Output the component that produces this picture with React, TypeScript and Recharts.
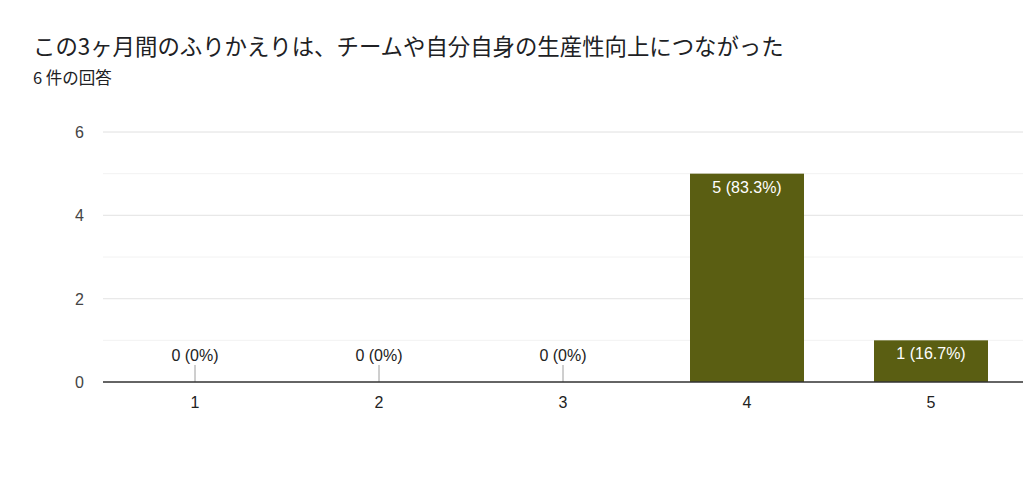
import { Bar, BarChart, CartesianGrid, XAxis, YAxis } from "recharts";

const categories = ["1", "2", "3", "4", "5"];
const counts = [0, 0, 0, 5, 1];
const yTicks = [0, 1, 2, 3, 4, 5, 6];
const majorTicks = [2, 4, 6];

const total = counts.reduce((a, b) => a + b, 0);
const data = categories.map((name, i) => ({ name, count: counts[i] }));

const TITLE_FONT = "'Noto Sans CJK JP', sans-serif";
const FONT = "'Liberation Sans', Arial, sans-serif";
const BAR_COLOR = "#5a5e12";

function pct(v: number) {
  const p = (v / total) * 100;
  return Number.isInteger(p) ? `${p}%` : `${p.toFixed(1)}%`;
}

// draws the bar plus its "n (p%)" label; zero bars get a small stem
function BarShape(props: any) {
  const { x, y, width, height, payload } = props;
  const value = payload.count;
  const cx = x + width / 2;
  const text = `${value} (${pct(value)})`;
  if (!value) {
    const base = y + (height || 0);
    return (
      <g>
        <line x1={cx} x2={cx} y1={base - 17} y2={base} stroke="#9e9e9e" strokeWidth={1} />
        <text x={cx} y={base - 21} textAnchor="middle" fontSize={16} fill="#222" fontFamily={FONT}>
          {text}
        </text>
      </g>
    );
  }
  return (
    <g>
      <rect x={x} y={y} width={width} height={height} fill={BAR_COLOR} />
      <text x={cx} y={y + 19} textAnchor="middle" fontSize={16} fill="#fff" fontFamily={FONT}>
        {text}
      </text>
    </g>
  );
}

function YTick(props: any) {
  const { x, y, payload } = props;
  if (payload.value % 2 !== 0) return <g />;
  return (
    <text x={x - 11} y={y + 6} textAnchor="end" fontSize={16} fill="#444" fontFamily={FONT}>
      {payload.value}
    </text>
  );
}

export default function App() {
  return (
    <div style={{ position: "absolute", left: 0, top: 0, width: 1024, height: 487, background: "#fff" }}>
      <div style={{ position: "absolute", left: 33, top: 29, fontSize: 22.4, color: "#202124", fontFamily: TITLE_FONT, whiteSpace: "nowrap" }}>
        この3ヶ月間のふりかえりは、チームや自分自身の生産性向上につながった
      </div>
      <div style={{ position: "absolute", left: 33, top: 65, fontSize: 16.5, color: "#202124", fontFamily: TITLE_FONT }}>
        6 件の回答
      </div>
      <BarChart
        width={1024}
        height={487}
        data={data}
        margin={{ top: 132, right: 1, left: 63, bottom: 75 }}
      >
        <CartesianGrid vertical={false} stroke="#f2f2f2" />
        <CartesianGrid vertical={false} horizontalValues={majorTicks} stroke="#e6e6e6" />
        <XAxis
          dataKey="name"
          tickLine={false}
          axisLine={{ stroke: "#333", strokeWidth: 1.5 }}
          tick={{ fontSize: 16, fill: "#222", fontFamily: FONT }}
          tickMargin={9}
          height={30}
        />
        <YAxis
          domain={[0, 6]}
          ticks={yTicks}
          interval={0}
          axisLine={false}
          tickLine={false}
          tick={<YTick />}
          width={40}
        />
        <Bar dataKey="count" fill={BAR_COLOR} barSize={114} shape={<BarShape />} isAnimationActive={false} />
      </BarChart>
    </div>
  );
}
